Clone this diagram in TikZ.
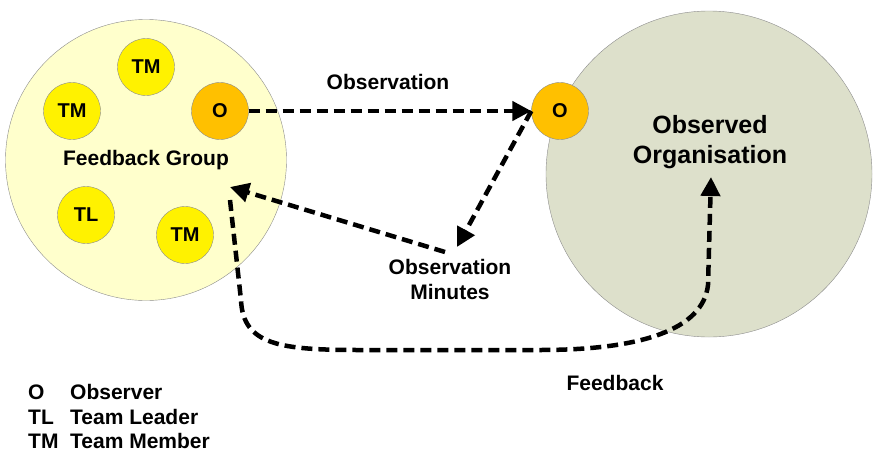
\documentclass[tikz,border=0pt]{standalone}
\usepackage{fontspec}
\setmainfont{Liberation Sans}
\usepackage{tikz}
\usetikzlibrary{arrows.meta,positioning}
\definecolor{groupfill}{HTML}{FFFFCC}
\definecolor{orgfill}{HTML}{DDE0CB}
\definecolor{obsorange}{HTML}{FFC000}
\definecolor{rimgray}{HTML}{8C8C8C}
\tikzset{
  big/.style={circle, draw=rimgray, inner sep=0},
  member/.style={circle, draw=rimgray, fill=yellow, minimum size=57pt, inner sep=0, font=\fontsize{20}{24}\selectfont\bfseries},
  observer/.style={member, fill=obsorange},
  label/.style={font=\fontsize{21}{25}\selectfont\bfseries, align=center},
  legend/.style={anchor=base west, inner sep=1pt, font=\fontsize{21}{25}\selectfont\bfseries},
  flow/.style={line width=4.5pt, dash pattern=on 11pt off 6pt, -{Triangle[length=19pt,width=19pt]}}
}
\begin{document}
\begin{tikzpicture}[x=1pt, y=-1pt]
    \useasboundingbox (0,0) rectangle (873,453);
    % the two groups
    \node (group) [big, fill=groupfill, minimum size=281pt] at (146,160) {};
    \node (org) [big, fill=orgfill, minimum size=326pt] at (709,174) {};
    \node (grouplabel) [label] at (146,160) {Feedback Group};
    \node (orglabel) [label, font=\fontsize{25}{30}\selectfont\bfseries] at (710,142) {Observed\\Organisation};
    % members
    \node (tmtop) [member] at (146,67) {TM};
    \node (tmleft) [member] at (72,111) {TM};
    \node (oleft) [observer] at (220,111) {O};
    \node (tl) [member] at (86,215) {TL};
    \node (tmright) [member] at (185,235) {TM};
    \node (oright) [observer] at (560,111) {O};
    % arrow ends
    \coordinate (mintip) at (457,247);
    \coordinate (minstart) at (445,252);
    \coordinate (grouptip) at (230,187);
    \coordinate (orgtip) at (711,177);
    \draw[flow] (oleft.east) -- (oright.west);
    \draw[flow] (oright.west) -- (mintip);
    \draw[flow] (minstart) -- (grouptip);
    \draw[flow] ([yshift=-13pt]grouptip) -- (241,300)
      .. controls (243,345) and (280,350) .. (360,350) -- (540,350)
      .. controls (640,350) and (703,330) .. (708,285) -- (orgtip);
    % labels
    \node (obslabel) [label] at (388,82) {Observation};
    \node (minlabel) [label] at (450,279) {Observation\\Minutes};
    \node (fblabel) [label] at (615,383) {Feedback};
    % legend
    \node (keyo) [legend] at (27,399) {O};
    \node (keytl) [legend] at (27,424) {TL};
    \node (keytm) [legend] at (27,448) {TM};
    \node (keyobs) [legend] at (69,399) {Observer};
    \node (keylead) [legend] at (69,424) {Team Leader};
    \node (keymem) [legend] at (69,448) {Team Member};
\end{tikzpicture}
\end{document}
